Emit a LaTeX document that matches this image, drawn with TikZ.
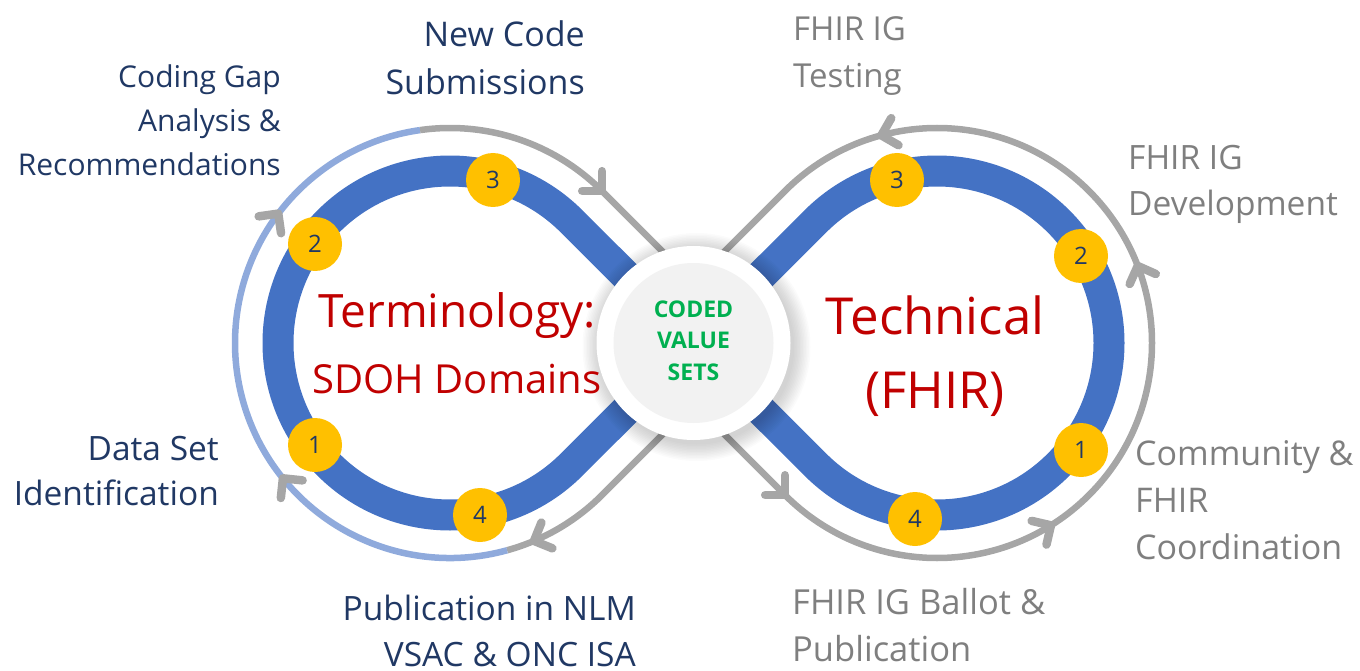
\documentclass[tikz,border=0pt]{standalone}
\usepackage{fontspec}
\setmainfont{Open Sans}
\usetikzlibrary{positioning}

\definecolor{bandblue}{HTML}{4472C4}
\definecolor{ringgray}{HTML}{A6A6A6}
\definecolor{ringblue}{HTML}{8FAADC}
\definecolor{badgegold}{HTML}{FFC000}
\definecolor{navy}{HTML}{203864}
\definecolor{termred}{HTML}{C00000}
\definecolor{codegreen}{HTML}{00B050}
\definecolor{notegray}{HTML}{7F7F7F}
\definecolor{hubgray}{HTML}{F2F2F2}

\tikzset{
  band/.style={draw=bandblue, line width=31pt, line join=round},
  ring/.style={draw=ringgray, line width=6.5pt},
  chev/.pic={\draw[ringgray, line width=8.5pt, line cap=round, line join=round]
    (-14,14) -- (0,0) -- (-14,-14);},
  badge/.style={circle, fill=badgegold, minimum size=54pt, inner sep=0pt,
    text=navy, font=\fontsize{24}{24}\selectfont},
  termlabel/.style={inner sep=0pt, text=navy, align=right, anchor=base east},
  fhirlabel/.style={inner sep=0pt, text=notegray, align=left, anchor=base west},
}

\begin{document}
\begin{tikzpicture}[x=1pt, y=1pt]
  \useasboundingbox (0,0) rectangle (1360,-671);

  \coordinate (L) at (450,-343);
  \coordinate (R) at (937,-343);
  \coordinate (C) at (693.5,-343);
  \coordinate (B0) at (693.5,-403.6);
  \coordinate (T0) at (693.5,-282.4);

  % outer cycle rings
  \draw[ring] (B0) -- ([shift={(-45:215)}]L) arc[start angle=-45, end angle=-74.6, radius=215];
  \draw[ring, draw=ringblue] ([shift={(-74.6:215)}]L) arc[start angle=-74.6, end angle=-262, radius=215];
  \draw[ring] ([shift={(-262:215)}]L) arc[start angle=-262, end angle=-315, radius=215] -- (T0);
  \draw[ring] (B0) -- ([shift={(225:215)}]R) arc[start angle=225, end angle=495, radius=215] -- (T0);

  % arrow heads, left cycle
  \pic[rotate=-157] at ([shift={(-67:215)}]L) {chev};
  \pic[rotate=129] at ([shift={(-141:215)}]L) {chev};
  \pic[rotate=53] at ([shift={(143:215)}]L) {chev};
  \pic[rotate=-45] at ([shift={(45:215)}]L) {chev};
  % arrow heads, right cycle
  \pic[rotate=-45] at ([shift={(225:215)}]R) {chev};
  \pic[rotate=32] at ([shift={(-58:215)}]R) {chev};
  \pic[rotate=111] at ([shift={(21:215)}]R) {chev};
  \pic[rotate=195] at ([shift={(105:215)}]R) {chev};

  % infinity band
  \draw[band] ([shift={(45:172)}]L) -- ([shift={(225:172)}]R)
    arc[start angle=225, end angle=495, radius=172]
    -- ([shift={(-45:172)}]L)
    arc[start angle=-45, end angle=-315, radius=172] -- cycle;

  % step badges
  \node[badge] (l1) at (315,-445) {1};
  \node[badge] (l2) at (315,-244) {2};
  \node[badge] (l3) at (493,-180) {3};
  \node[badge] (l4) at (480,-515) {4};
  \node[badge] (r1) at (1081,-450) {1};
  \node[badge] (r2) at (1081,-256) {2};
  \node[badge] (r3) at (897,-180) {3};
  \node[badge] (r4) at (915,-519) {4};

  % hub with soft shadow
  \foreach \k in {1,...,12}
    \fill[black, opacity=0.015] ([shift={(3,-4)}]C) circle[radius=96+1.5*\k];
  \node[circle, fill=white, minimum size=194pt, inner sep=0pt] (hubrim) at (C) {};
  \node[circle, fill=hubgray, minimum size=160pt, inner sep=0pt] (hub) at (C) {};
  \node[inner sep=0pt, align=center, anchor=base, text=codegreen,
    font=\bfseries\fontsize{23}{31.5}\selectfont] (coded) at (693.5,-380) {CODED\\VALUE\\SETS};

  % loop titles
  \node[inner sep=0pt, anchor=base, text=termred, font=\fontsize{46}{46}\selectfont]
    (term) at (457,-327) {Terminology:};
  \node[inner sep=0pt, anchor=base, text=termred, font=\fontsize{40}{40}\selectfont]
    (sdoh) at (457,-393) {SDOH Domains};
  \node[inner sep=0pt, align=center, anchor=base, text=termred, font=\fontsize{51}{74}\selectfont]
    (tech) at (935,-408) {Technical\\(FHIR)};

  % step labels, terminology side
  \node[termlabel, font=\fontsize{34}{48}\selectfont] (newcode) at (585,-95) {New Code\\Submissions};
  \node[termlabel, font=\fontsize{30}{44}\selectfont] (gap) at (281,-176) {Coding Gap\\Analysis \&\\Recommendations};
  \node[termlabel, font=\fontsize{33.5}{45}\selectfont] (dataset) at (219,-505) {Data Set\\Identification};
  \node[termlabel, font=\fontsize{33.5}{46}\selectfont] (publish) at (636,-666) {Publication in NLM\\VSAC \& ONC ISA};

  % step labels, technical side
  \node[fhirlabel, font=\fontsize{33}{47}\selectfont] (testing) at (793,-88) {FHIR IG\\Testing};
  \node[fhirlabel, font=\fontsize{33.5}{47}\selectfont] (develop) at (1128,-216) {FHIR IG\\Development};
  \node[fhirlabel, font=\fontsize{34}{47}\selectfont] (community) at (1135,-559) {Community \&\\FHIR\\Coordination};
  \node[fhirlabel, font=\fontsize{34.5}{47}\selectfont] (ballot) at (792,-661) {FHIR IG Ballot \&\\Publication};
\end{tikzpicture}
\end{document}
